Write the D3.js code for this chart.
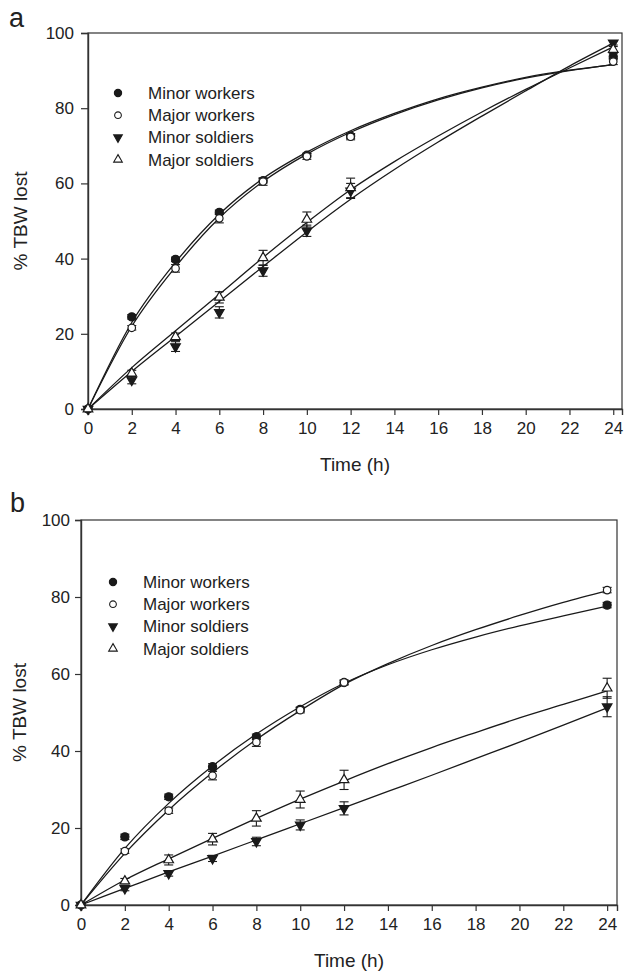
<!DOCTYPE html>
<html lang="en">
<head>
<meta charset="utf-8">
<script src="https://d3js.org/d3.v7.min.js"></script>
<style>
  body { margin: 0; background: #fff; }
  svg text { font-family: "Liberation Sans", Arial, sans-serif; fill: #222; }
</style>
</head>
<body>
<script>
// sampling times and group names
var hours = [0, 2, 4, 6, 8, 10, 12, 24];
var fitHours = [0, 2, 4, 6, 8, 10, 12, 14, 16, 18, 20, 22, 24];
var groups = ["Minor workers", "Major workers", "Minor soldiers", "Major soldiers"];
var yTicks = [0, 20, 40, 60, 80, 100];
var xTicks = [0, 2, 4, 6, 8, 10, 12, 14, 16, 18, 20, 22, 24];

// panel a: mean % TBW lost, SE, fitted curve (order as groups)
var aMean = [
  [0, 24.5, 39.8, 52.3, 60.7, 67.5, 72.6, 93.7],
  [0, 21.6, 37.4, 50.7, 60.5, 67.2, 72.4, 92.4],
  [0, 7.7, 16.6, 25.7, 36.8, 47.4, 58.0, 97.4],
  [0, 9.5, 19.2, 29.7, 40.2, 50.4, 58.8, 95.6]
];
var aSE = [
  [0, 0.6, 0.6, 0.6, 0.6, 0.5, 0.6, 0.8],
  [0, 0.6, 1.0, 1.2, 1.0, 0.8, 0.8, 0.8],
  [0, 1.0, 1.3, 1.5, 1.5, 1.5, 2.0, 0.6],
  [0, 0.8, 1.0, 1.5, 2.0, 2.0, 2.6, 0.8]
];
var aFit = [
  [0, 23, 39, 51.8, 61.3, 68.3, 74, 78.6, 82.5, 85.6, 88.2, 90.1, 91.6],
  [0, 22, 37.8, 50.8, 60.5, 67.8, 73.6, 78.3, 82.2, 85.4, 88, 90, 91.6],
  [0, 10, 19.3, 28.6, 37.9, 47.1, 55.8, 63.7, 71, 77.9, 84.6, 91.2, 97.3],
  [0, 11, 20.8, 30.5, 40.3, 49.6, 58.3, 65.8, 72.6, 79, 85, 90.7, 96.3]
];

// panel b
var bMean = [
  [0, 17.7, 28.1, 35.9, 43.7, 50.8, 57.8, 77.9],
  [0, 14.0, 24.5, 33.6, 42.3, 50.6, 57.8, 81.8],
  [0, 4.3, 8.2, 12.1, 16.5, 20.8, 25.1, 51.5],
  [0, 6.2, 11.7, 17.1, 22.5, 27.4, 32.5, 56.3]
];
var bSE = [
  [0, 0.7, 0.7, 0.8, 0.7, 0.6, 0.6, 0.7],
  [0, 0.6, 0.7, 1.1, 1.1, 0.7, 0.6, 0.7],
  [0, 0.6, 0.7, 0.8, 1.1, 1.3, 1.7, 2.6],
  [0, 0.7, 1.3, 1.5, 2.0, 2.2, 2.5, 2.6]
];
var bFit = [
  [0, 14.7, 26.4, 36.1, 44.4, 51.5, 57.6, 62.4, 66.3, 69.6, 72.5, 75.1, 77.6],
  [0, 13.4, 24.7, 34.4, 43, 50.5, 57.3, 62.7, 67.4, 71.5, 75.2, 78.6, 81.6],
  [0, 4.3, 8.6, 12.7, 16.9, 21.1, 25.3, 29.5, 33.7, 38, 42.3, 46.7, 51.2],
  [0, 6.5, 12, 17.3, 22.5, 27.5, 32.2, 36.7, 40.9, 44.8, 48.6, 52.1, 55.6]
];

var width = 624, height = 971;
var ink = "#1a1a1a";

var svg = d3.select("body").append("svg")
    .attr("width", width)
    .attr("height", height);

// marker style per group: filled circle, open circle, filled down triangle, open up triangle
var markerType = [d3.symbolCircle, d3.symbolCircle, d3.symbolTriangle, d3.symbolTriangle];
var markerFill = [ink, "#fff", ink, "#fff"];
var markerRot = [0, 0, 180, 0];
var markerSize = [52, 44, 40, 40];

function drawPanel(p) {
    var x = d3.scaleLinear().domain([0, p.xMax]).range([p.left, p.right]);
    var y = d3.scaleLinear().domain([0, 100]).range([p.bottom, p.top]);
    var g = svg.append("g");

    // frame
    g.append("rect")
        .attr("x", p.left)
        .attr("y", p.top)
        .attr("width", p.right - p.left)
        .attr("height", p.bottom - p.top)
        .attr("fill", "none")
        .attr("stroke", "#333")
        .attr("stroke-width", 1.2);

    var ax = g.append("g")
        .attr("transform", "translate(0," + p.bottom + ")")
        .call(d3.axisBottom(x).tickValues(xTicks).tickSize(6).tickPadding(7).tickFormat(d3.format("d")));
    var ay = g.append("g")
        .attr("transform", "translate(" + p.left + ",0)")
        .call(d3.axisLeft(y).tickValues(yTicks).tickSize(p.yTickSize).tickPadding(p.yTickPad).tickFormat(d3.format("d")));
    [ax, ay].forEach(function(a) {
        a.select(".domain").attr("stroke", "#333").attr("stroke-width", 1.4);
        a.selectAll(".tick line").attr("stroke", "#333").attr("stroke-width", 1.2);
        a.selectAll(".tick text").attr("fill", ink).style("font-size", "17px");
        a.attr("font-family", null);
    });

    // fitted curves
    var line = d3.line()
        .x(function(d) { return x(d[0]); })
        .y(function(d) { return y(d[1]); })
        .curve(d3.curveMonotoneX);
    p.fit.forEach(function(f) {
        g.append("path")
            .datum(fitHours.map(function(h, i) { return [h, f[i]]; }))
            .attr("d", line)
            .attr("fill", "none")
            .attr("stroke", ink)
            .attr("stroke-width", 1.3);
    });

    // error bars
    p.mean.forEach(function(m, k) {
        var pts = hours.map(function(h, i) { return {h: h, v: m[i], se: p.se[k][i]}; })
            .filter(function(d) { return d.se > 0; });
        var eb = g.append("g").attr("stroke", ink).attr("stroke-width", 1.1);
        eb.selectAll("line.v").data(pts).enter().append("line")
            .attr("x1", function(d) { return x(d.h); })
            .attr("x2", function(d) { return x(d.h); })
            .attr("y1", function(d) { return y(d.v - d.se); })
            .attr("y2", function(d) { return y(d.v + d.se); });
        [-1, 1].forEach(function(s) {
            eb.selectAll("line.c" + (s + 1)).data(pts).enter().append("line")
                .attr("x1", function(d) { return x(d.h) - 4.5; })
                .attr("x2", function(d) { return x(d.h) + 4.5; })
                .attr("y1", function(d) { return y(d.v + s * d.se); })
                .attr("y2", function(d) { return y(d.v + s * d.se); });
        });
    });

    // markers
    p.mean.forEach(function(m, k) {
        g.selectAll(null)
            .data(hours.map(function(h, i) { return [h, m[i]]; }))
            .enter().append("path")
            .attr("d", d3.symbol().type(markerType[k]).size(markerSize[k]))
            .attr("transform", function(d) {
                return "translate(" + x(d[0]) + "," + y(d[1]) + ") rotate(" + markerRot[k] + ")";
            })
            .attr("fill", markerFill[k])
            .attr("stroke", ink)
            .attr("stroke-width", 1.2);
    });

    // legend
    var lg = g.append("g");
    groups.forEach(function(name, k) {
        var ly = p.legendY + k * 22.2;
        lg.append("path")
            .attr("d", d3.symbol().type(markerType[k]).size(markerSize[k] * 0.8))
            .attr("transform", "translate(" + p.legendX + "," + ly + ") rotate(" + markerRot[k] + ")")
            .attr("fill", markerFill[k])
            .attr("stroke", ink)
            .attr("stroke-width", 1.1);
        lg.append("text")
            .attr("x", p.legendX + 30)
            .attr("y", ly + 6)
            .style("font-size", "17px")
            .text(name);
    });

    // titles
    g.append("text")
        .attr("x", (p.left + p.right) / 2)
        .attr("y", p.bottom + 62)
        .attr("text-anchor", "middle")
        .style("font-size", "19px")
        .text("Time (h)");
    g.append("text")
        .attr("transform", "translate(" + p.yLabelX + "," + ((p.top + p.bottom) / 2) + ") rotate(-90)")
        .attr("text-anchor", "middle")
        .style("font-size", "19px")
        .text("% TBW lost");
    g.append("text")
        .attr("x", p.letterX)
        .attr("y", p.letterY)
        .style("font-size", "27px")
        .text(p.letter);
}

drawPanel({letter: "a", letterX: 9, letterY: 27,
    left: 88, right: 622, top: 33, bottom: 409, xMax: 24.4,
    yTickSize: 7, yTickPad: 7, yLabelX: 27,
    legendX: 118, legendY: 93,
    mean: aMean, se: aSE, fit: aFit});

drawPanel({letter: "b", letterX: 10, letterY: 512,
    left: 81, right: 617, top: 520, bottom: 905, xMax: 24.45,
    yTickSize: 6, yTickPad: 5, yLabelX: 26,
    legendX: 113, legendY: 582,
    mean: bMean, se: bSE, fit: bFit});
</script>
</body>
</html>
